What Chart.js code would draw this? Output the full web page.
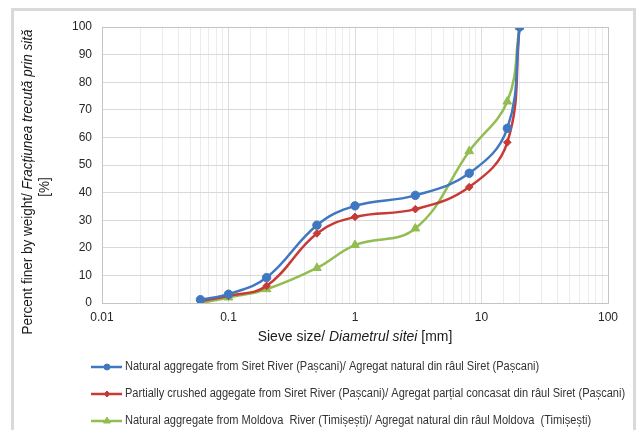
<!DOCTYPE html>
<html>
<head>
<meta charset="utf-8">
<script src="https://cdn.jsdelivr.net/npm/chart.js@4/dist/chart.umd.min.js"></script>
<style>
html,body{margin:0;padding:0;background:#fff;}
canvas{display:block;}
</style>
</head>
<body>
<canvas id="c" width="638" height="430"></canvas>
<script>
// ---- data ----
const sieveSizes = [0.06, 0.1, 0.2, 0.5, 1, 3, 8, 16, 20];
const siretNatural = [1.2, 3.2, 9.2, 28.2, 35.2, 39, 47, 63.3, 100];
const siretCrushed = [0.7, 2.6, 6.2, 25.2, 31.2, 34, 42, 58.2, 100];
const moldovaNatural = [0, 2, 5, 12.7, 21, 27, 55, 73, 100];
const seriesLabels = [
  "Natural aggregate from Siret River (Pașcani)/ Agregat natural din râul Siret (Pașcani)",
  "Partially crushed aggegate from Siret River (Pașcani)/ Agregat parțial concasat din râul Siret (Pașcani)",
  "Natural aggregate from Moldova  River (Timișești)/ Agregat natural din râul Moldova  (Timișești)"
];
const xTickValues = [0.01, 0.1, 1, 10, 100];
const yMin = 0, yMax = 100, yStep = 10;

const colors = ["#3F78C0", "#C83A36", "#92BD50"];
const pointStyles = ["circle", "rectRot", "triangle"];
const pointRadii = [4.2, 3.8, 5];
const legendRadii = [3, 3, 4];
const allSeries = [siretNatural, siretCrushed, moldovaNatural];

const datasets = allSeries.map((vals, i) => ({
  label: seriesLabels[i],
  data: sieveSizes.map((s, k) => ({x: s, y: vals[k]})),
  borderColor: colors[i],
  backgroundColor: colors[i],
  borderWidth: 2.5,
  pointStyle: pointStyles[i],
  pointRadius: pointRadii[i],
  pointBorderWidth: 1,
  tension: 0.4,
  fill: false
}));

const FONT = "'Liberation Sans', Arial, sans-serif";

function drawRich(ctx, parts, cx, cy, size, fam, sx) {
  sx = sx || 1;
  let total = 0;
  const widths = parts.map(p => {
    ctx.font = (p.i ? "italic " : "") + size + "px " + fam;
    const w = ctx.measureText(p.t).width;
    total += w;
    return w;
  });
  ctx.save();
  ctx.translate(cx, cy);
  ctx.scale(sx, 1);
  let x = -total / 2;
  ctx.textBaseline = "middle";
  ctx.textAlign = "left";
  parts.forEach((p, k) => {
    ctx.font = (p.i ? "italic " : "") + size + "px " + fam;
    ctx.fillText(p.t, x, 0);
    x += widths[k];
  });
  ctx.restore();
}

const decorPlugin = {
  id: "decor",
  beforeDraw(chart) {
    const ctx = chart.ctx;
    ctx.save();
    ctx.strokeStyle = "#d9d9d9";
    ctx.lineWidth = 3;
    ctx.strokeRect(12.5, 9.5, 622, 440);
    ctx.restore();
  },
  afterDraw(chart) {
    const ctx = chart.ctx;
    const a = chart.chartArea;
    ctx.save();
    // plot border
    ctx.strokeStyle = "#c4c4c4";
    ctx.lineWidth = 1;
    ctx.strokeRect(Math.round(a.left) + 0.5, Math.round(a.top) + 0.5, Math.round(a.right - a.left), Math.round(a.bottom - a.top));
    // x title
    ctx.fillStyle = "#1a1a1a";
    drawRich(ctx, [{t: "Sieve size/ "}, {t: "Diametrul sitei", i: true}, {t: " [mm]"}], (a.left + a.right) / 2, 337, 15, FONT, 0.93);
    // y title
    ctx.save();
    ctx.translate(28, 182);
    ctx.rotate(-Math.PI / 2);
    drawRich(ctx, [{t: "Percent finer by weight/ "}, {t: "Fracțiunea trecută prin sită", i: true}], 0, 0, 14, FONT, 0.965);
    ctx.restore();
    ctx.save();
    ctx.translate(45, 187);
    ctx.rotate(-Math.PI / 2);
    drawRich(ctx, [{t: "[%]"}], 0, 0, 14, FONT, 0.965);
    ctx.restore();
    // legend
    const rows = [367, 394, 421];
    chart.data.datasets.forEach((ds, i) => {
      const y = rows[i];
      ctx.strokeStyle = ds.borderColor;
      ctx.lineWidth = 2.5;
      ctx.beginPath();
      ctx.moveTo(91, y);
      ctx.lineTo(122, y);
      ctx.stroke();
      ctx.fillStyle = ds.borderColor;
      ctx.lineWidth = 1;
      Chart.helpers.drawPoint(ctx, {pointStyle: ds.pointStyle, radius: legendRadii[i], borderWidth: 1, rotation: 0}, 107, y);
      ctx.save();
      ctx.translate(125, y);
      ctx.scale(0.92, 1);
      ctx.fillStyle = "#333333";
      ctx.font = "12px " + FONT;
      ctx.textAlign = "left";
      ctx.textBaseline = "middle";
      ctx.fillText(ds.label, 0, 0);
      ctx.restore();
    });
    ctx.restore();
  }
};

new Chart(document.getElementById("c"), {
  type: "line",
  data: {datasets},
  options: {
    responsive: false,
    animation: false,
    layout: {padding: {top: 27, right: 30, left: 0, bottom: 0}},
    plugins: {legend: {display: false}, tooltip: {enabled: false}},
    scales: {
      x: {
        type: "logarithmic",
        min: xTickValues[0],
        max: xTickValues[xTickValues.length - 1],
        afterFit(s) { s.height = 127; },
        border: {display: false},
        grid: {
          drawTicks: false,
          color: (c) => {
            const v = c.tick ? c.tick.value : 0;
            const e = Math.log10(v);
            return Math.abs(e - Math.round(e)) < 1e-6 ? "#dcdcdc" : "#ececec";
          },
          lineWidth: 1
        },
        ticks: {
          autoSkip: false,
          maxRotation: 0,
          padding: 7,
          color: "#262626",
          font: {size: 12, family: FONT},
          callback: (v) => {
            const hit = xTickValues.find(t => Math.abs(Math.log10(v) - Math.log10(t)) < 1e-6);
            return hit !== undefined ? String(hit) : "";
          }
        }
      },
      y: {
        min: yMin,
        max: yMax,
        afterFit(s) { s.width = 102; },
        border: {display: false},
        grid: {drawTicks: false, color: "#d9d9d9", lineWidth: 1},
        ticks: {
          stepSize: yStep,
          padding: 10,
          color: "#262626",
          font: {size: 12, family: FONT}
        }
      }
    }
  },
  plugins: [decorPlugin]
});
</script>
</body>
</html>
